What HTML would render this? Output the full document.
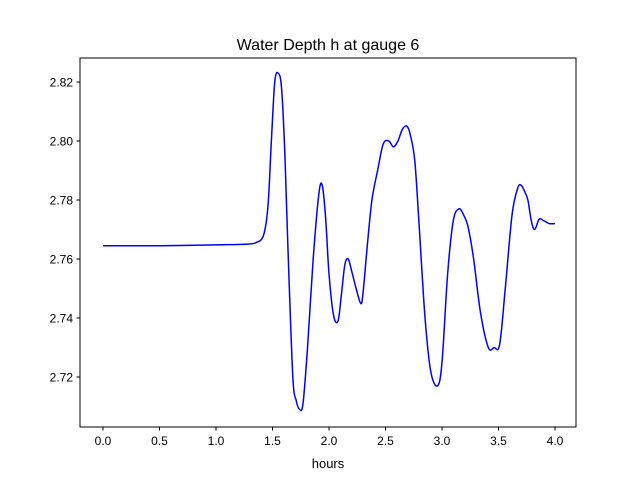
<!DOCTYPE html>
<html><head><meta charset="utf-8"><style>
body{margin:0;background:#fff}
svg{display:block;font-family:"Liberation Sans","DejaVu Sans",sans-serif}
</style></head><body>
<svg id="c" width="640" height="480" viewBox="0 0 640 480">
<rect width="640" height="480" fill="#fff"/>
<text x="328" y="50" text-anchor="middle" font-size="16">Water Depth h at gauge 6</text>
<g id="plot"></g>
<rect x="80" y="58" width="496" height="369" fill="none" stroke="#000" stroke-width="1"/>
<text x="328" y="468" text-anchor="middle" font-size="13">hours</text>
</svg>
<script>
const hours=[0,0.5,1.0,1.25,1.35,1.42,1.46,1.49,1.52,1.55,1.58,1.61,1.64,1.68,1.71,1.74,1.77,1.81,1.86,1.91,1.94,1.97,2.0,2.04,2.08,2.11,2.14,2.17,2.2,2.24,2.28,2.3,2.34,2.38,2.43,2.48,2.53,2.57,2.61,2.65,2.69,2.72,2.76,2.8,2.85,2.9,2.96,3.0,3.05,3.1,3.15,3.19,3.23,3.28,3.34,3.41,3.46,3.51,3.56,3.62,3.67,3.7,3.73,3.76,3.79,3.82,3.86,3.9,3.95,4.0];
const depth=[2.7645,2.7645,2.7648,2.765,2.7655,2.768,2.778,2.800,2.820,2.823,2.818,2.795,2.76,2.72,2.712,2.709,2.711,2.73,2.76,2.782,2.785,2.774,2.755,2.741,2.739,2.748,2.758,2.760,2.756,2.75,2.745,2.748,2.765,2.780,2.790,2.799,2.800,2.798,2.800,2.804,2.805,2.802,2.793,2.77,2.74,2.722,2.717,2.725,2.755,2.773,2.777,2.775,2.771,2.76,2.742,2.730,2.730,2.731,2.75,2.775,2.784,2.785,2.783,2.780,2.773,2.770,2.7735,2.773,2.772,2.772];
const xTicks=[0,0.5,1.0,1.5,2.0,2.5,3.0,3.5,4.0];
const yTicks=[2.72,2.74,2.76,2.78,2.80,2.82];
const X=h=>103+h*113;
const Y=v=>377-(v-2.72)*2950;
const ns="http://www.w3.org/2000/svg";
const g=document.getElementById('plot');
function mk(t,a){const e=document.createElementNS(ns,t);for(const k in a)e.setAttribute(k,a[k]);g.appendChild(e);return e;}
xTicks.forEach(t=>{
 const l=mk('line',{x1:X(t),x2:X(t),y1:427,y2:430.5,stroke:'#000'});
 
 
 const s=mk('text',{x:X(t),y:445,'text-anchor':'middle','font-size':'12'});s.textContent=t.toFixed(1);
 
 
});
yTicks.forEach(t=>{
 const l=mk('line',{x1:76.5,x2:80,y1:Y(t),y2:Y(t),stroke:'#000'});
 
 
 const s=mk('text',{x:73,y:Y(t)+4.5,'text-anchor':'end','font-size':'12'});s.textContent=t.toFixed(2);
 
 
});
const P=hours.map((h,i)=>[X(h),Y(depth[i])]);
let d='M'+P[0][0]+','+P[0][1];
for(let i=0;i<P.length-1;i++){
 const p0=P[Math.max(0,i-1)],p1=P[i],p2=P[i+1],p3=P[Math.min(P.length-1,i+2)];
 const c1=[p1[0]+(p2[0]-p0[0])/6,p1[1]+(p2[1]-p0[1])/6];
 const c2=[p2[0]-(p3[0]-p1[0])/6,p2[1]-(p3[1]-p1[1])/6];
 d+=`C${c1[0]},${c1[1]} ${c2[0]},${c2[1]} ${p2[0]},${p2[1]}`;
}
const line=mk('path',{d:d,fill:'none',stroke:'#0000ff','stroke-width':1.5});


</script>
</body></html>
